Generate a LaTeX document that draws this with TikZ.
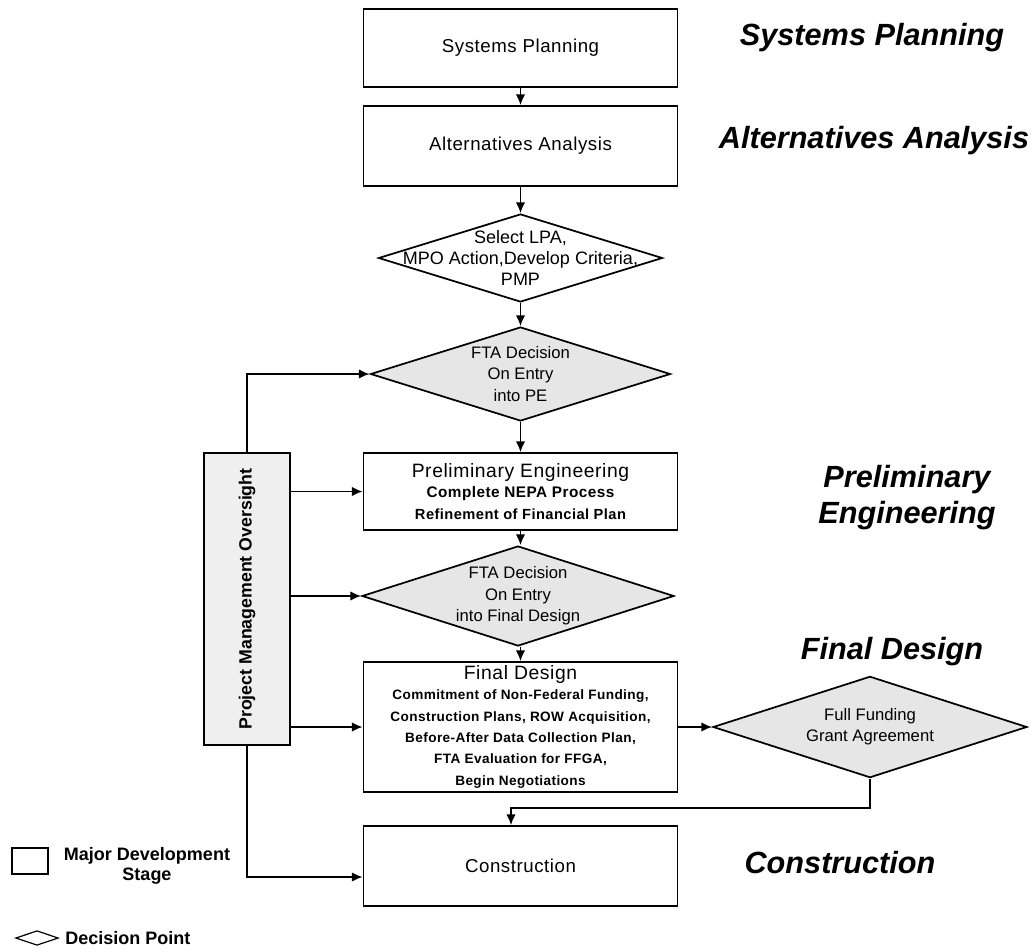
\documentclass[tikz,border=0pt]{standalone}
\usepackage{fontspec}
\setmainfont{Liberation Sans}
\usetikzlibrary{shapes.geometric,arrows.meta}
\definecolor{decgray}{HTML}{E6E6E6}
\definecolor{pmogray}{HTML}{EFEFEF}
\newcommand{\lspc}{\addfontfeature{LetterSpace=3}}
\newcommand{\fdtitle}{\fontsize{14.5}{16}\selectfont\mdseries\lspc}
\newcommand{\fdsub}{\fontsize{10.2}{12.6}\selectfont\bfseries}
\begin{document}
\begin{tikzpicture}[x=0.75pt,y=-0.75pt,
  line width=1.3pt,
  stagebox/.style={draw, fill=white, rectangle, minimum width=235.5pt, inner sep=0pt, align=center, font=\fontsize{14}{16}\selectfont\lspc},
  decision/.style={draw, diamond, aspect=3, inner sep=0pt, fill=decgray},
  dtext/.style={align=center, font=\fontsize{12.5}{16}\selectfont},
  arr/.style={-{Latex[length=8pt,width=7pt]}},
  phase/.style={font=\fontsize{23}{27}\selectfont\bfseries\itshape, align=center},
  legtext/.style={font=\fontsize{13.5}{15}\selectfont\bfseries, align=center}
]
\useasboundingbox (0,0) rectangle (1033,951);

% stages
\node[stagebox, minimum height=58.5pt] (sp) at (520.5,48) {Systems Planning};
\node[stagebox, minimum height=60pt] (aa) at (520.5,146) {Alternatives Analysis};
\node[stagebox, minimum height=57.75pt] (pe) at (520.5,491.5)
  {\fontsize{14.5}{16}\selectfont Preliminary Engineering\\[-1pt]
   \fontsize{11.5}{14}\selectfont\bfseries Complete NEPA Process\\
   \fontsize{11}{13.5}\selectfont\bfseries Refinement of Financial Plan};
\node[stagebox, minimum height=97.5pt] (fd) at (520.5,727)
  {\fdtitle Final Design\\[-1pt]
   \fdsub Commitment of Non-Federal Funding,\\
   \fdsub Construction Plans, ROW Acquisition,\\
   \fdsub Before-After Data Collection Plan,\\
   \fdsub FTA Evaluation for FFGA,\\
   \fdsub Begin Negotiations};
\node[stagebox, minimum height=60pt] (con) at (520.5,866) {Construction};

% decisions
\node[decision, fill=white, minimum width=213pt, minimum height=66pt] (lpa) at (520.5,258) {};
\node[dtext, font=\fontsize{13.5}{16}\selectfont] (lpa-t) at (520.5,258) {Select LPA,\\MPO Action,Develop Criteria,\\PMP};
\node[decision, minimum width=225pt, minimum height=70.5pt] (ped) at (520.5,374) {};
\node[dtext] (ped-t) at (520.5,374) {FTA Decision\\On Entry\\into PE};
\node[decision, minimum width=234pt, minimum height=75pt] (fdd) at (518,596) {};
\node[dtext] (fdd-t) at (518,596) {FTA Decision\\On Entry\\into Final Design};
\node[decision, minimum width=235.5pt, minimum height=76pt] (ff) at (870,727) {};
\node[dtext] (ff-t) at (870,727) {Full Funding\\Grant Agreement};

% project management oversight
\node[draw, fill=pmogray, minimum width=64.5pt, minimum height=219pt, inner sep=0pt] (pmo) at (247,599) {};
\node[rotate=90, font=\fontsize{13.3}{15}\selectfont\bfseries] (pmo-t) at (247,599) {Project Management Oversight};

% main flow
\draw[arr] (sp) -- (aa);
\draw[arr] (aa) -- (lpa);
\draw[arr] (lpa) -- (ped);
\draw[arr] (ped) -- (pe);
\draw[arr] (pe) -- (fdd.north -| pe.south);
\draw[arr] (fdd.south -| fd.north) -- (fd);
\draw[arr] (fd) -- (ff);
\coordinate (ffturn) at (511,808);
\draw[arr] (ff.south) |- (ffturn) -- (ffturn |- con.north);

% oversight links
\coordinate (conin) at (con.west |- 0,877);
\draw[arr] (pmo.north) |- (ped.west);
\draw[arr] (pmo.east |- pe.west) -- (pe.west);
\draw[arr] (pmo.east |- fdd.west) -- (fdd.west);
\draw[arr] (pmo.east |- fd.west) -- (fd.west);
\draw[arr] (pmo.south) |- (conin);

% phase labels
\node[phase] (l-sp) at (872,38) {Systems Planning};
\node[phase] (l-aa) at (874,141) {Alternatives Analysis};
\node[phase] (l-pe) at (907,498) {Preliminary\\Engineering};
\node[phase] (l-fd) at (892,652) {Final Design};
\node[phase] (l-con) at (840,863) {Construction};

% legend
\node[draw, fill=white, minimum width=27pt, minimum height=19.5pt, inner sep=0pt] (lg-box) at (30,861) {};
\node[legtext] (lg-box-t) at (147,866) {Major Development\\Stage};
\node[draw, diamond, aspect=3, inner sep=0pt, fill=white, minimum width=32pt, minimum height=11pt, line width=0.9pt] (lg-dia) at (37,938) {};
\node[legtext, anchor=west] (lg-dia-t) at (60,938) {Decision Point};
\end{tikzpicture}
\end{document}
